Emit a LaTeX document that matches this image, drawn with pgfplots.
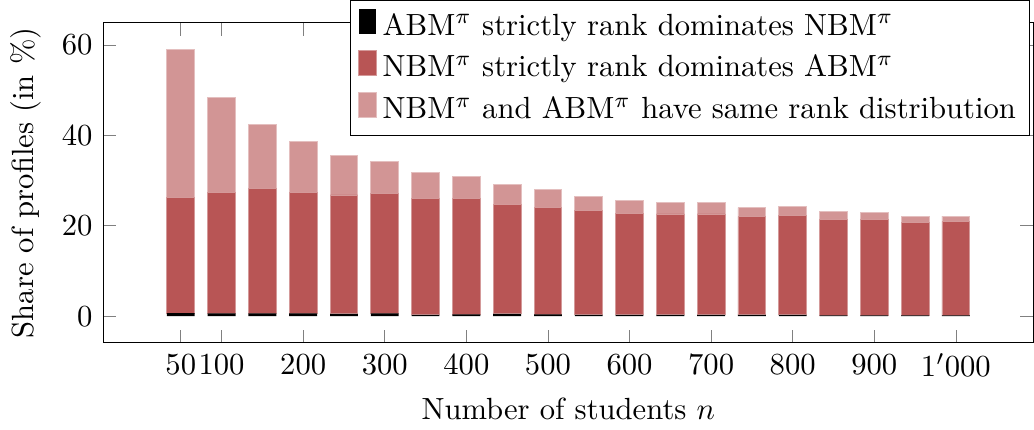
\documentclass[border=0pt]{standalone}
\usepackage{pgfplots}
\pgfplotsset{compat=1.18}
\definecolor{cRed}{RGB}{184,85,85}
\definecolor{cLight}{RGB}{210,149,149}
\begin{document}
\begin{tikzpicture}
\begin{axis}[
  scale only axis,
  width=303.8pt, height=104.6pt,
  ybar stacked,
  bar width=9.1pt,
  xmin=-45, xmax=1095,
  ymin=-5.9, ymax=64.9,
  xtick={50,100,200,300,400,500,600,700,800,900,1000},
  xticklabels={50,100,200,300,400,500,600,700,800,900,$1'000$},
  ytick={0,20,40,60},
  xlabel={Number of students $n$},
  ylabel={Share of profiles (in \%)},
  legend cell align=left,
  legend image code/.code={\fill[#1] (0pt,-2.4pt) rectangle (5.6pt,5.8pt);},
  legend style={at={(0.9968,1.0707)}, anchor=north east, draw=black, fill=white, inner xsep=2.5pt, inner ysep=1.6pt, row sep=0pt, nodes={inner ysep=2.5pt}},
]
\addplot[fill=black, draw=none] coordinates {
(50,0.7) (100,0.6) (150,0.6) (200,0.6) (250,0.5) (300,0.6) (350,0.3) (400,0.4) (450,0.5) (500,0.4)
(550,0.3) (600,0.3) (650,0.3) (700,0.3) (750,0.3) (800,0.3) (850,0.2) (900,0.2) (950,0.2) (1000,0.2)};
\addplot[fill=cRed, draw=cRed!60!white, line width=0.3pt] coordinates {
(50,25.6) (100,26.7) (150,27.6) (200,26.7) (250,26.3) (300,26.5) (350,25.8) (400,25.6) (450,24.2) (500,23.7)
(550,23.0) (600,22.4) (650,22.3) (700,22.3) (750,21.7) (800,22.0) (850,21.2) (900,21.1) (950,20.6) (1000,20.7)};
\addplot[fill=cLight, draw=cLight!60!white, line width=0.3pt] coordinates {
(50,32.6) (100,21.1) (150,14.2) (200,11.3) (250,8.7) (300,7.1) (350,5.6) (400,4.9) (450,4.4) (500,3.9)
(550,3.2) (600,2.9) (650,2.5) (700,2.5) (750,2.0) (800,1.9) (850,1.7) (900,1.6) (950,1.2) (1000,1.2)};
\legend{ABM$^\pi$ strictly rank dominates NBM$^\pi$, NBM$^\pi$ strictly rank dominates ABM$^\pi$, NBM$^\pi$ and ABM$^\pi$ have same rank distribution}
\end{axis}
\end{tikzpicture}
\end{document}
